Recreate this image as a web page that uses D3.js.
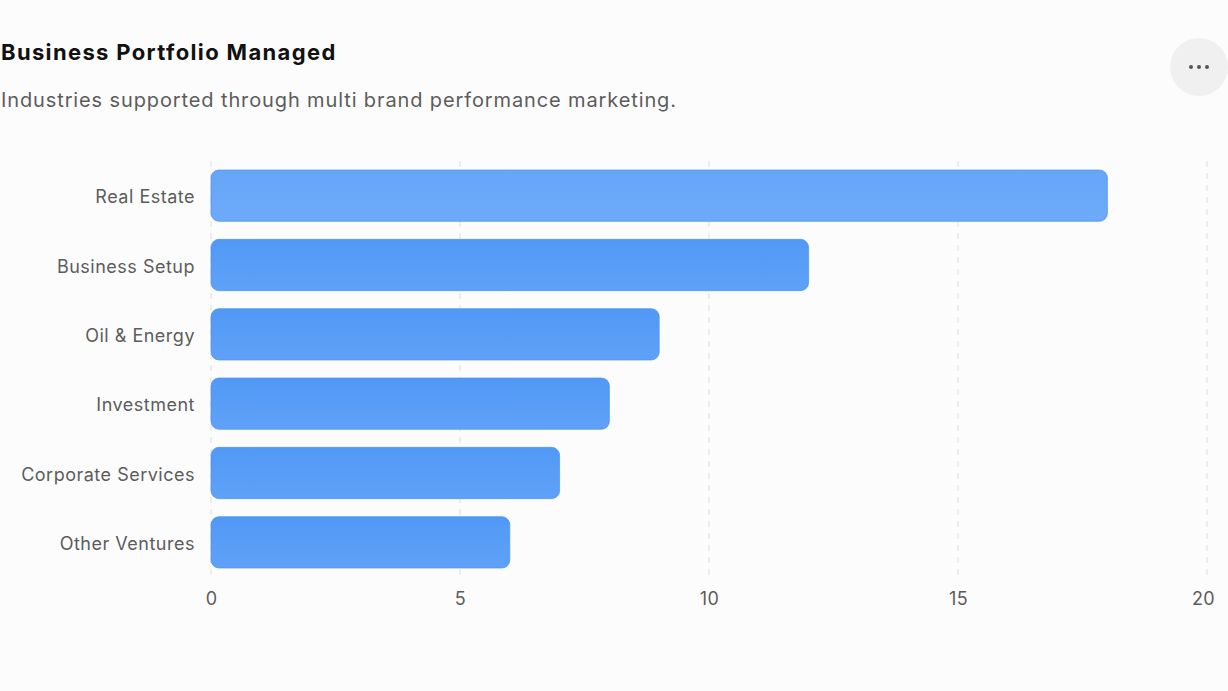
<!DOCTYPE html>
<html>
<head>
<meta charset="utf-8">
<script src="https://cdn.jsdelivr.net/npm/d3@7"></script>
<style>
  body { margin: 0; background: #fcfcfc; font-family: Inter, "Noto Sans", sans-serif; }
  #chart { position: relative; width: 1228px; height: 691px; }
</style>
</head>
<body>
<div id="chart"></div>
<script>
// chart data
var industries = ["Real Estate", "Business Setup", "Oil & Energy", "Investment", "Corporate Services", "Other Ventures"];
var brandCounts = [18, 12, 9, 8, 7, 6];
var xTicks = [0, 5, 10, 15, 20];

var width = 1228, height = 691;

var svg = d3.select('#chart')
  .append('svg')
  .attr('width', width)
  .attr('height', height)
  .style('background-color', '#fcfcfc');

// gradients for bars
var defs = svg.append('defs');
var grad = defs.append('linearGradient')
  .attr('id', 'barGrad')
  .attr('x1', 0).attr('y1', 0).attr('x2', 0).attr('y2', 1);
grad.append('stop').attr('offset', '0%').attr('stop-color', '#5199f6');
grad.append('stop').attr('offset', '100%').attr('stop-color', '#5fa1f7');

var gradActive = defs.append('linearGradient')
  .attr('id', 'barGradActive')
  .attr('x1', 0).attr('y1', 0).attr('x2', 0).attr('y2', 1);
gradActive.append('stop').attr('offset', '0%').attr('stop-color', '#66a5f8');
gradActive.append('stop').attr('offset', '100%').attr('stop-color', '#6eaaf9');

// title + subtitle
svg.append('text')
  .attr('x', 1)
  .attr('y', 60)
  .style('font-size', '22px')
  .style('font-weight', '700')
  .style('letter-spacing', '1.35px')
  .style('fill', '#111')
  .text('Business Portfolio Managed');

svg.append('text')
  .attr('x', 1)
  .attr('y', 107)
  .style('font-size', '20px')
  .style('letter-spacing', '0.88px')
  .style('fill', '#5c5c5c')
  .text('Industries supported through multi brand performance marketing.');

// menu button
var btn = svg.append('g').attr('transform', 'translate(1199,67)');
btn.append('circle').attr('r', 29).attr('fill', '#f0f0f0');
[-8, 0, 8].forEach(function(dx) {
  btn.append('circle').attr('cx', dx).attr('r', 2).attr('fill', '#555');
});

// scales
var x = d3.scaleLinear()
  .domain([0, 20])
  .range([211, 1207]);

var y = d3.scaleBand()
  .domain(industries)
  .range([161, 577])
  .paddingInner(0.26)
  .paddingOuter(0.13);

// gridlines
svg.append('g')
  .selectAll('line')
  .data(xTicks)
  .join('line')
  .attr('x1', d => x(d))
  .attr('x2', d => x(d))
  .attr('y1', 161)
  .attr('y2', 577)
  .attr('stroke', '#e3e3e3')
  .attr('stroke-width', 1.2)
  .attr('stroke-dasharray', '6 6');

// x axis
var xAxis = svg.append('g')
  .attr('transform', 'translate(0,577)')
  .call(d3.axisBottom(x).tickValues(xTicks).tickSize(0).tickPadding(15));
xAxis.select('.domain').remove();
xAxis.selectAll('text')
  .style('font-family', 'Inter, "Noto Sans", sans-serif')
  .style('font-size', '18px')
  .style('letter-spacing', '0.4px')
  .style('fill', '#5c5c5c')
  .attr('dx', d => d === 20 ? -4 : 0);

// y axis
var yAxis = svg.append('g')
  .attr('transform', 'translate(195,0)')
  .call(d3.axisLeft(y).tickSize(0).tickPadding(0));
yAxis.select('.domain').remove();
yAxis.selectAll('text')
  .style('font-family', 'Inter, "Noto Sans", sans-serif')
  .style('font-size', '18px')
  .style('letter-spacing', '0.5px')
  .style('fill', '#5c5c5c')
  .attr('dy', '0.42em');

// bars
var data = industries.map(function(name, i) { return { name: name, count: brandCounts[i] }; });

svg.append('g')
  .selectAll('rect')
  .data(data)
  .join('rect')
  .attr('x', x(0))
  .attr('y', d => y(d.name))
  .attr('width', d => x(d.count) - x(0))
  .attr('height', y.bandwidth())
  .attr('rx', 8)
  .attr('ry', 8)
  .attr('fill', (d, i) => i === 0 ? 'url(#barGradActive)' : 'url(#barGrad)')
  .attr('stroke', '#4a93f2')
  .attr('stroke-opacity', 0.7)
  .attr('stroke-width', 1);
</script>
</body>
</html>
